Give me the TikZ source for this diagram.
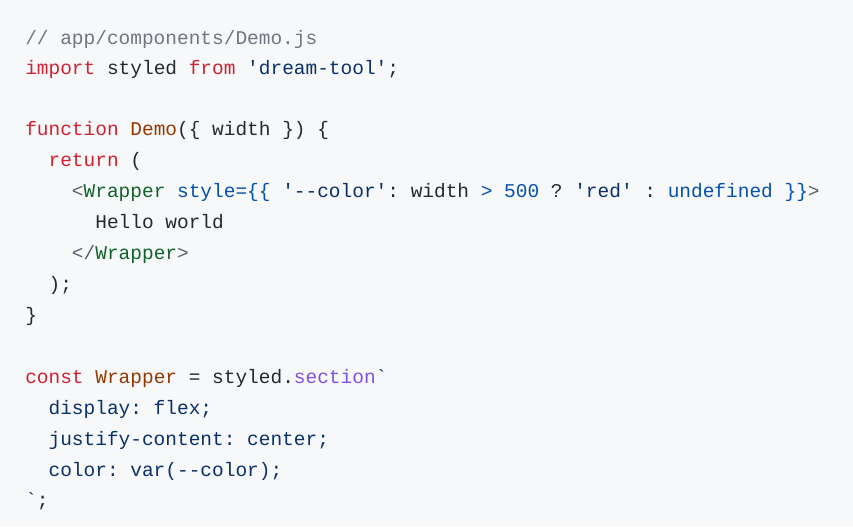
\documentclass[tikz,border=0pt]{standalone}
\usepackage{fontspec}
\setmonofont{Liberation Mono}
\definecolor{bg}{HTML}{F6F8FA}
\definecolor{cm}{HTML}{6E7781}
\definecolor{kw}{HTML}{CF222E}
\definecolor{st}{HTML}{0A3069}
\definecolor{fn}{HTML}{953800}
\definecolor{tg}{HTML}{116329}
\definecolor{bl}{HTML}{0550AE}
\definecolor{pu}{HTML}{8250DF}
\definecolor{tx}{HTML}{24292F}
\definecolor{pn}{HTML}{57606A}
\newcommand{\K}[1]{\textcolor{kw}{#1}}
\newcommand{\Sg}[1]{\textcolor{st}{#1}}
\newcommand{\F}[1]{\textcolor{fn}{#1}}
\newcommand{\G}[1]{\textcolor{tg}{#1}}
\newcommand{\B}[1]{\textcolor{bl}{#1}}
\newcommand{\Pu}[1]{\textcolor{pu}{#1}}
\newcommand{\Pn}[1]{\textcolor{pn}{#1}}
\begin{document}
\begin{tikzpicture}[x=0.75pt,y=-0.75pt,
  codeline/.style={anchor=base west,inner sep=0pt,font=\fontsize{14.6}{16}\ttfamily,text=tx}]
\fill[bg] (0,0) rectangle (853,526);
\node[codeline] (l1) at (25,44) {\textcolor{cm}{// app/components/Demo.js}};
\node[codeline] (l2) at (25,74) {\K{import} styled \K{from} \Sg{'dream-tool'};};
\node[codeline] (l4) at (25,135) {\K{function} \F{Demo}(\{ width \}) \{};
\node[codeline] (l5) at (25,166) {\ \ \K{return} (};
\node[codeline] (l6) at (25,197) {\ \ \ \ \Pn{<}\G{Wrapper} \B{style}\B{=\{\{} \Sg{'-{}-color'}: width \B{>} \B{500} ? \Sg{'red'} : \B{undefined} \B{\}\}}\Pn{>}};
\node[codeline] (l7) at (25,228) {\ \ \ \ \ \ Hello world};
\node[codeline] (l8) at (25,259) {\ \ \ \ \Pn{</}\G{Wrapper}\Pn{>}};
\node[codeline] (l9) at (25,290) {\ \ );};
\node[codeline] (l10) at (25,321) {\}};
\node[codeline] (l12) at (25,383) {\K{const} \F{Wrapper} = styled.\Pu{section}\Sg{`}};
\node[codeline] (l13) at (25,414) {\ \ \Sg{display: flex;}};
\node[codeline] (l14) at (25,445) {\ \ \Sg{justify-content: center;}};
\node[codeline] (l15) at (25,476) {\ \ \Sg{color: var(-{}-color);}};
\node[codeline] (l16) at (25,506) {\Sg{`};};
\end{tikzpicture}
\end{document}
